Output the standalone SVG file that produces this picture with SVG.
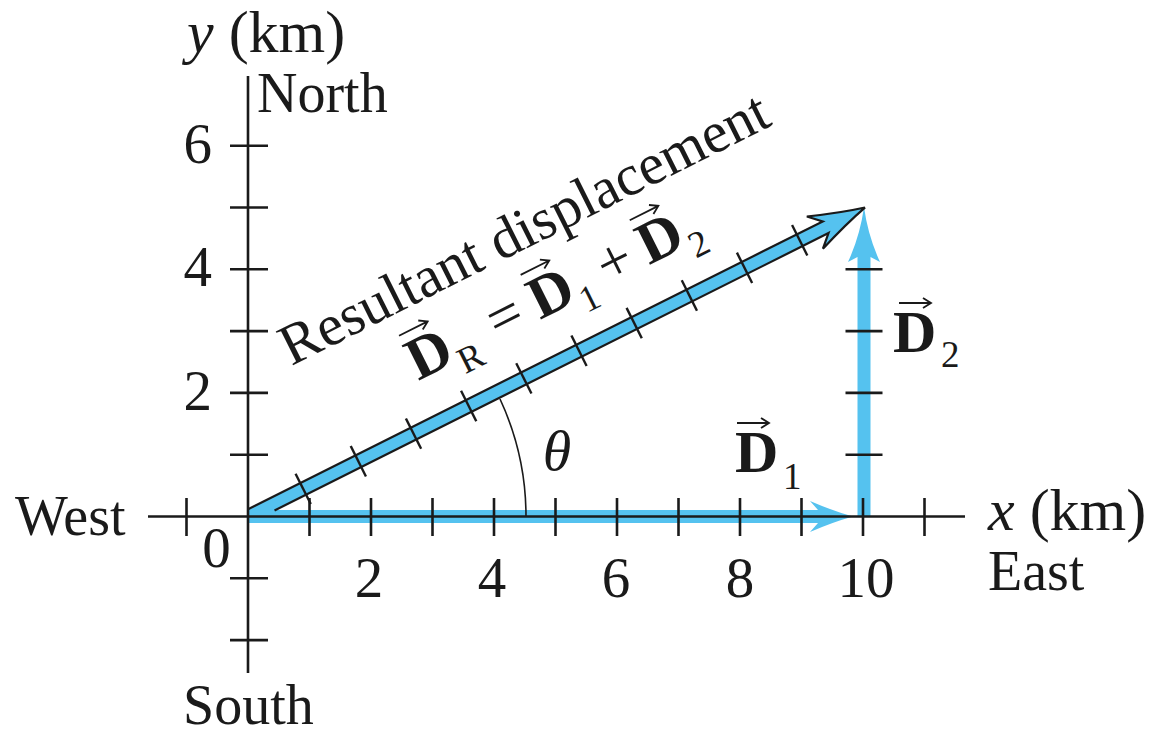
<svg xmlns="http://www.w3.org/2000/svg" width="1149" height="736" viewBox="0 0 1149 736">
<style>
text{font-family:"Liberation Serif","Times New Roman",serif;fill:#1a1a1a}
.lbl{font-size:56px}
.num{font-size:57px}
.ax{font-size:60px}
.it{font-style:italic}
.vec{font-size:60px;font-weight:bold}
.sub{font-size:37px}
.op{font-size:60px}
.axis{stroke:#1a1a1a;stroke-width:2.6;fill:none}
.tick{stroke:#1a1a1a;stroke-width:2.6}
.band{fill:#55c2ef}
.outline{fill:none;stroke:#1a1a1a;stroke-width:2.2;stroke-linejoin:miter}
.rtick{stroke:#1a1a1a;stroke-width:2.4}
.arc{fill:none;stroke:#1a1a1a;stroke-width:1.6}
.varrow{fill:none;stroke:#1a1a1a;stroke-width:1.8}
</style>
<defs>
<path id="va" class="varrow" d="M0,0 H32 M24,-5 L32,0 L24,5"/>
</defs>
<rect width="1149" height="736" fill="#ffffff"/>

<g id="connectors">
  <path id="D1" class="band" d="M248,510 H818 L810,501 Q833,511 853,516.5 Q833,522 810,532 L818,523 H248 Z"/>
  <path id="D2" class="band" d="M857.5,516.5 V257 L848,262 Q860,236 864,207 Q868,236 880,262 L870.5,257 V516.5 Z"/>
  <g id="DR" transform="translate(248,516.5) rotate(-26.6)">
    <path class="band" d="M3.3,-6.5 H646 L634,-18 Q666,-6 690,0 Q666,6 634,18 L646,6.5 H26.4 L2.7,-5.4 Z"/>
    <path class="outline" d="M3.3,-6.5 H646 L634,-18 Q666,-6 690,0 Q666,6 634,18 L646,6.5 H26.4"/>
    <g class="rtick">
      <line x1="61.7" y1="-17" x2="61.7" y2="17"/>
      <line x1="123.4" y1="-17" x2="123.4" y2="17"/>
      <line x1="185.1" y1="-17" x2="185.1" y2="17"/>
      <line x1="246.8" y1="-17" x2="246.8" y2="17"/>
      <line x1="308.5" y1="-17" x2="308.5" y2="17"/>
      <line x1="370.2" y1="-17" x2="370.2" y2="17"/>
      <line x1="431.9" y1="-17" x2="431.9" y2="17"/>
      <line x1="493.6" y1="-17" x2="493.6" y2="17"/>
      <line x1="555.3" y1="-17" x2="555.3" y2="17"/>
      <line x1="617" y1="-17" x2="617" y2="17"/>
    </g>
  </g>
  <path id="theta-arc" class="arc" d="M526,516.5 A278,278 0 0 0 500,399"/>
</g>

<g id="axes">
  <line class="axis" x1="148" y1="516.5" x2="965" y2="516.5"/>
  <line class="axis" x1="248" y1="76" x2="248" y2="673"/>
  <g class="tick">
    <line x1="186.5" y1="498" x2="186.5" y2="536"/>
    <line x1="309.5" y1="498" x2="309.5" y2="536"/>
    <line x1="371" y1="498" x2="371" y2="536"/>
    <line x1="432.5" y1="498" x2="432.5" y2="536"/>
    <line x1="494" y1="498" x2="494" y2="536"/>
    <line x1="555.5" y1="498" x2="555.5" y2="536"/>
    <line x1="617" y1="498" x2="617" y2="536"/>
    <line x1="678.5" y1="498" x2="678.5" y2="536"/>
    <line x1="740" y1="498" x2="740" y2="536"/>
    <line x1="801.5" y1="498" x2="801.5" y2="536"/>
    <line x1="863" y1="498" x2="863" y2="536"/>
    <line x1="924.5" y1="498" x2="924.5" y2="536"/>
    <line x1="230" y1="454.7" x2="268" y2="454.7"/>
    <line x1="230" y1="392.9" x2="268" y2="392.9"/>
    <line x1="230" y1="331.1" x2="268" y2="331.1"/>
    <line x1="230" y1="269.3" x2="268" y2="269.3"/>
    <line x1="230" y1="207.5" x2="268" y2="207.5"/>
    <line x1="230" y1="145.7" x2="268" y2="145.7"/>
    <line x1="230" y1="578.3" x2="268" y2="578.3"/>
    <line x1="230" y1="640.1" x2="268" y2="640.1"/>
    <line x1="845.5" y1="454.7" x2="882.5" y2="454.7"/>
    <line x1="845.5" y1="392.9" x2="882.5" y2="392.9"/>
    <line x1="845.5" y1="331.1" x2="882.5" y2="331.1"/>
    <line x1="845.5" y1="269.3" x2="882.5" y2="269.3"/>
  </g>
</g>

<g id="axis-labels">
  <text class="ax" x="187" y="52"><tspan class="it">y</tspan> (km)</text>
  <text class="lbl" x="257" y="112">North</text>
  <text class="lbl" x="15" y="535">West</text>
  <text class="ax" x="988" y="530"><tspan class="it">x</tspan> (km)</text>
  <text class="lbl" x="988" y="590">East</text>
  <text class="lbl" x="183" y="724">South</text>
</g>

<g id="tick-labels" class="num">
  <text x="212" y="163" text-anchor="end">6</text>
  <text x="212" y="286" text-anchor="end">4</text>
  <text x="212" y="410" text-anchor="end">2</text>
  <text x="216.5" y="567" text-anchor="middle">0</text>
  <text x="369" y="597" text-anchor="middle">2</text>
  <text x="492" y="597" text-anchor="middle">4</text>
  <text x="616" y="597" text-anchor="middle">6</text>
  <text x="740" y="597" text-anchor="middle">8</text>
  <text x="866" y="597" text-anchor="middle">10</text>
</g>

<g id="label-theta">
  <text class="it" x="557" y="470" text-anchor="middle" style="font-size:58px">θ</text>
</g>

<g id="label-D1">
  <use href="#va" transform="translate(737,423)"/>
  <text class="vec" x="735" y="472">D</text>
  <text class="sub" x="783" y="489">1</text>
</g>

<g id="label-D2">
  <use href="#va" transform="translate(899,303)"/>
  <text class="vec" x="893" y="352">D</text>
  <text class="sub" x="941" y="367">2</text>
</g>

<g id="label-DR" transform="translate(248,516.5) rotate(-26.6)">
  <text x="106" y="-115" style="font-size:58px">Resultant displacement</text>
  <use href="#va" transform="translate(216,-94)"/>
  <text class="vec" x="213" y="-45">D</text>
  <text class="sub" x="258" y="-30">R</text>
  <text class="op" x="302" y="-45">=</text>
  <use href="#va" transform="translate(352,-94)"/>
  <text class="vec" x="349" y="-45">D</text>
  <text class="sub" x="394" y="-30">1</text>
  <text class="op" x="425" y="-45">+</text>
  <use href="#va" transform="translate(474,-94)"/>
  <text class="vec" x="471" y="-45">D</text>
  <text class="sub" x="516" y="-30">2</text>
</g>
</svg>
